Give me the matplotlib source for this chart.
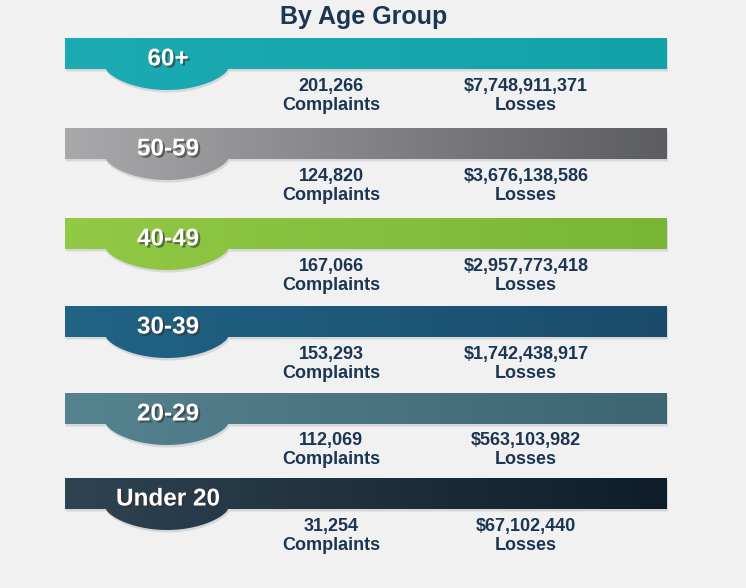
import numpy as np
import matplotlib.pyplot as plt
from matplotlib.path import Path
from matplotlib.patches import PathPatch
import matplotlib.patheffects as pe
from matplotlib.colors import LinearSegmentedColormap

# datos
grupos = ['60+', '50-59', '40-49', '30-39', '20-29', 'Under 20']
quejas = ['201,266', '124,820', '167,066', '153,293', '112,069', '31,254']
perdidas = ['$7,748,911,371', '$3,676,138,586', '$2,957,773,418',
            '$1,742,438,917', '$563,103,982', '$67,102,440']
colores = [('#1cabb3', '#11a2aa'), ('#a9a9ab', '#5c5d61'), ('#92c945', '#79b636'),
           ('#216486', '#1a4b6b'), ('#55838f', '#3d6573'), ('#2f4352', '#0e1d29')]

# posiciones (pixeles)
tops = [38, 128, 218, 306, 393, 478]
alto = 31
x0, x1 = 65, 667
tab_x0, tab_x1 = 106, 228
tab_h = 21

plt.rcParams['font.family'] = ['Liberation Sans', 'DejaVu Sans']
texto = '#1c3553'

fig = plt.figure(figsize=(7.46, 5.88), dpi=100)
fig.patch.set_facecolor('#f1f1f1')
ax = fig.add_axes([0, 0, 1, 1])
ax.set_xlim(0, 746)
ax.set_ylim(588, 0)
ax.axis('off')


def forma(top, dx=0, dy=0):
    bot = top + alto
    cx = (tab_x0 + tab_x1) / 2
    rx = (tab_x1 - tab_x0) / 2
    verts = [(x0, top), (x1, top), (x1, bot), (tab_x1, bot)]
    t = np.linspace(0, np.pi, 60)
    for a in t:
        verts.append((cx + rx * np.cos(a), bot + tab_h * np.sin(a) ** 1.4))
    verts += [(tab_x0, bot), (x0, bot), (x0, top)]
    verts = [(vx + dx, vy + dy) for vx, vy in verts]
    codes = [Path.MOVETO] + [Path.LINETO] * (len(verts) - 2) + [Path.CLOSEPOLY]
    return Path(verts, codes)


for i, g in enumerate(grupos):
    top = tops[i]
    # sombra
    sombra = PathPatch(forma(top, 1, 2.5), facecolor='#c3c6ca', edgecolor='none', alpha=0.6)
    ax.add_patch(sombra)
    patch = PathPatch(forma(top), facecolor='none', edgecolor='none')
    ax.add_patch(patch)
    cmap = LinearSegmentedColormap.from_list('c%d' % i, colores[i])
    grad = np.linspace(0, 1, 256).reshape(1, -1)
    im = ax.imshow(grad, cmap=cmap, extent=[x0, x1, top + alto + tab_h + 2, top],
                   aspect='auto', zorder=2)
    im.set_clip_path(patch)

    ax.text(168, top + 21, g, ha='center', va='center', fontsize=17.5, fontweight='bold',
            color='white', zorder=4,
            path_effects=[pe.withSimplePatchShadow(offset=(1.5, -1.5), shadow_rgbFace='#333333', alpha=0.6)])

    yb = top + alto
    ax.text(331, yb + 17, quejas[i], ha='center', va='center', fontsize=13,
            fontweight='bold', color=texto)
    ax.text(331, yb + 36, 'Complaints', ha='center', va='center', fontsize=13,
            fontweight='bold', color=texto)
    ax.text(526, yb + 17, perdidas[i], ha='center', va='center', fontsize=13,
            fontweight='bold', color=texto)
    ax.text(526, yb + 36, 'Losses', ha='center', va='center', fontsize=13,
            fontweight='bold', color=texto)

ax.text(364, 17, 'By Age Group', ha='center', va='center', fontsize=18,
        fontweight='bold', color=texto)

fig.savefig('out.png', dpi=100, facecolor=fig.get_facecolor())
